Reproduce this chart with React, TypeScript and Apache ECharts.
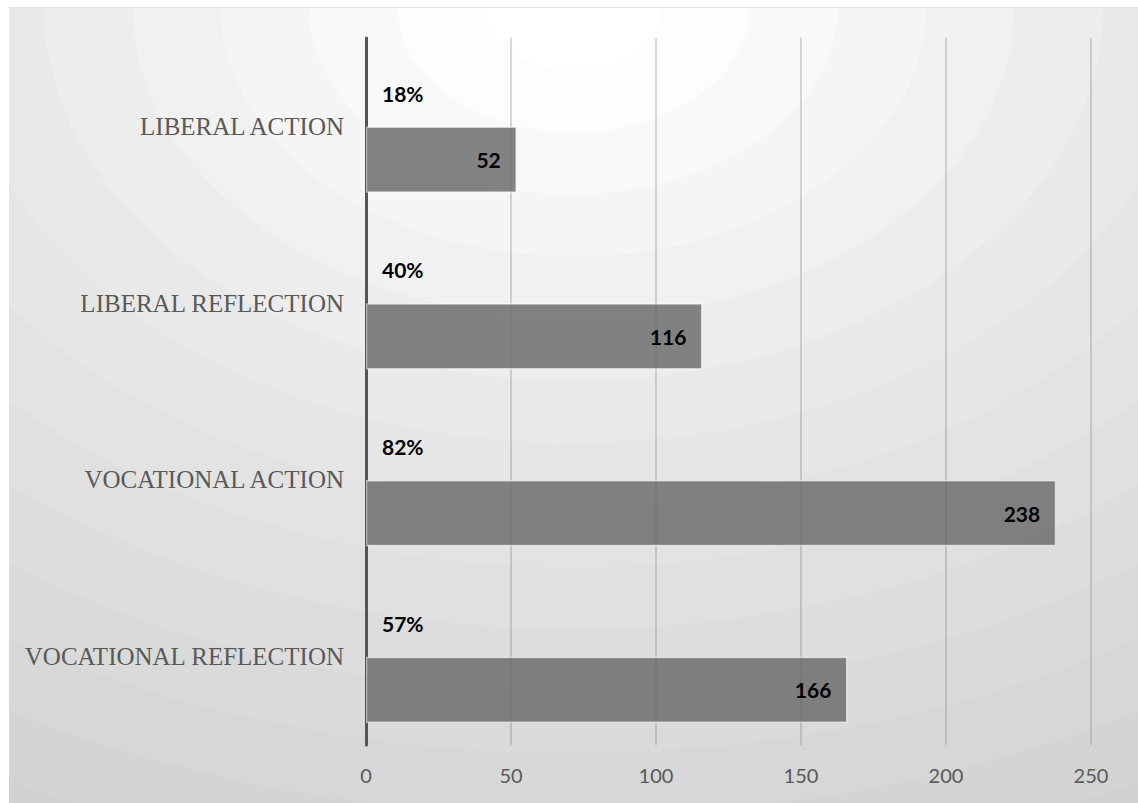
import React, { useEffect, useRef } from "react";
import * as echarts from "echarts";

const categories = [
  "LIBERAL ACTION",
  "LIBERAL REFLECTION",
  "VOCATIONAL ACTION",
  "VOCATIONAL REFLECTION",
];
const counts = [52, 116, 238, 166];
const percents = [18, 40, 82, 57];
const xTicks = { min: 0, max: 250, interval: 50 };

const bandColors = [
  "#ffffff", "#fdfdfd", "#f9f9f9", "#f5f5f5", "#f1f1f1", "#ededed",
  "#e9e9e9", "#e6e6e6", "#e3e3e3", "#e0e0e0", "#dddddd", "#dadada",
  "#d7d7d7", "#d4d4d4", "#d1d1d1", "#cecece",
];

function buildStops() {
  const stops: { offset: number; color: string }[] = [];
  const n = bandColors.length;
  bandColors.forEach((c, i) => {
    stops.push({ offset: i / n, color: c });
    stops.push({ offset: Math.min(1, (i + 1) / n - 0.0001), color: c });
  });
  return stops;
}

export default function App() {
  const ref = useRef<HTMLDivElement>(null);
  useEffect(() => {
    if (!ref.current) return;
    const chart = echarts.init(ref.current, null, { renderer: "svg" });
    chart.setOption({
      animation: false,
      backgroundColor: {
        type: "radial",
        x: 0.5,
        y: 0,
        r: 1.25,
        colorStops: buildStops(),
      },
      grid: { left: 357, top: 30, right: 47, bottom: 58, containLabel: false },
      xAxis: {
        type: "value",
        min: xTicks.min,
        max: xTicks.max,
        interval: xTicks.interval,
        axisLine: { show: false },
        axisTick: { show: false },
        splitLine: { show: true, lineStyle: { color: "rgba(110,110,110,0.35)", width: 1.5 } },
        axisLabel: {
          color: "#595959",
          fontFamily: "Lato",
          fontSize: 20,
          margin: 20,
        },
      },
      yAxis: {
        type: "category",
        data: categories,
        inverse: true,
        axisLine: { show: true, lineStyle: { color: "#555555", width: 3 } },
        axisTick: { show: false },
        axisLabel: {
          color: "#595959",
          fontFamily: "Liberation Serif",
          fontSize: 25,
          margin: 22,
        },
      },
      series: [
        {
          type: "bar",
          data: percents,
          barGap: "0%",
          barCategoryGap: "25%",
          itemStyle: { color: "rgba(0,0,0,0)" },
          label: {
            show: true,
            position: "insideLeft",
            distance: 16,
            formatter: "{c}%",
            color: "#000000",
            fontFamily: "Lato",
            fontWeight: "bold",
            fontSize: 21,
          },
          silent: true,
        },
        {
          type: "bar",
          data: counts,
          barGap: "0%",
          barCategoryGap: "25%",
          itemStyle: {
            color: "rgba(105,105,105,0.82)",
            borderColor: "rgba(255,255,255,0.55)",
            borderWidth: 1.5,
          },
          label: {
            show: true,
            position: "insideRight",
            distance: 16,
            color: "#000000",
            fontFamily: "Lato",
            fontWeight: "bold",
            fontSize: 21,
          },
        },
      ],
    });
    return () => chart.dispose();
  }, []);
  return (
    <div
      style={{
        position: "fixed",
        left: 0,
        top: 0,
        width: 1138,
        height: 803,
        background: "#ffffff",
        overflow: "hidden",
      }}
    >
      <div
        ref={ref}
        style={{
          position: "absolute",
          left: 9,
          top: 7,
          width: 1129,
          height: 796,
          borderTop: "1px solid #e2e2e2",
          boxSizing: "border-box",
        }}
      />
    </div>
  );
}
